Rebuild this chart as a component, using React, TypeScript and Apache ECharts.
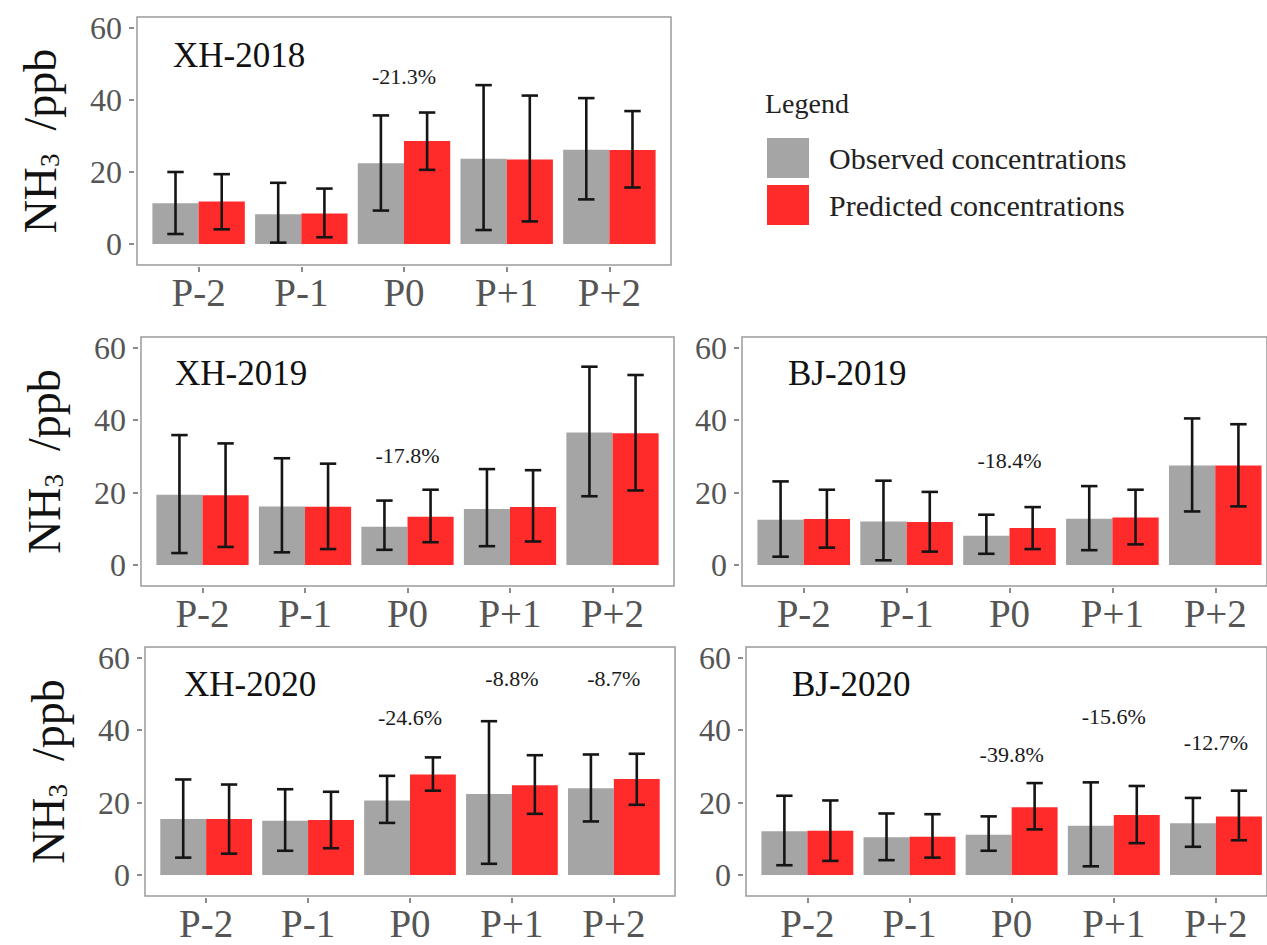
import React, { useEffect, useRef } from "react";
import * as echarts from "echarts";

const FONT = "Liberation Serif";

// ---------- data ----------
const categories = ["P-2", "P-1", "P0", "P+1", "P+2"];
const yMin = 0;
const yMax = 60;
const yStep = 20;

const xh2018ObsMean = [11.3, 8.3, 22.4, 23.7, 26.2];
const xh2018ObsLo = [2.8, 0.4, 9.3, 3.9, 12.4];
const xh2018ObsHi = [20.0, 17.0, 35.7, 44.1, 40.5];
const xh2018PredMean = [11.8, 8.5, 28.6, 23.5, 26.1];
const xh2018PredLo = [4.1, 1.9, 20.6, 6.3, 15.7];
const xh2018PredHi = [19.4, 15.4, 36.5, 41.2, 36.9];
const xh2018NoteCat = ["P0"];
const xh2018NoteY = [46.5];
const xh2018NoteText = ["-21.3%"];

const xh2019ObsMean = [19.4, 16.2, 10.6, 15.5, 36.6];
const xh2019ObsLo = [3.3, 3.5, 4.2, 5.2, 19.0];
const xh2019ObsHi = [35.9, 29.5, 17.8, 26.5, 54.8];
const xh2019PredMean = [19.3, 16.1, 13.3, 16.0, 36.4];
const xh2019PredLo = [5.0, 4.4, 6.3, 6.5, 20.6];
const xh2019PredHi = [33.6, 28.0, 20.8, 26.2, 52.5];
const xh2019NoteCat = ["P0"];
const xh2019NoteY = [30.3];
const xh2019NoteText = ["-17.8%"];

const bj2019ObsMean = [12.5, 12.0, 8.1, 12.8, 27.5];
const bj2019ObsLo = [2.3, 1.3, 3.1, 4.1, 14.8];
const bj2019ObsHi = [23.1, 23.3, 13.9, 21.8, 40.5];
const bj2019PredMean = [12.7, 11.9, 10.2, 13.1, 27.5];
const bj2019PredLo = [4.8, 3.7, 4.4, 5.7, 16.2];
const bj2019PredHi = [20.8, 20.2, 16.0, 20.8, 38.9];
const bj2019NoteCat = ["P0"];
const bj2019NoteY = [28.9];
const bj2019NoteText = ["-18.4%"];

const xh2020ObsMean = [15.5, 15.0, 20.6, 22.4, 24.0];
const xh2020ObsLo = [4.8, 6.7, 14.4, 3.1, 14.8];
const xh2020ObsHi = [26.4, 23.7, 27.4, 42.5, 33.3];
const xh2020PredMean = [15.5, 15.2, 27.8, 24.8, 26.5];
const xh2020PredLo = [5.9, 7.4, 23.3, 16.9, 19.4];
const xh2020PredHi = [25.0, 23.0, 32.5, 33.1, 33.5];
const xh2020NoteCat = ["P0", "P+1", "P+2"];
const xh2020NoteY = [43.5, 54.2, 54.2];
const xh2020NoteText = ["-24.6%", "-8.8%", "-8.7%"];

const bj2020ObsMean = [12.1, 10.4, 11.1, 13.6, 14.3];
const bj2020ObsLo = [2.7, 4.1, 6.7, 2.4, 7.8];
const bj2020ObsHi = [21.9, 17.0, 16.2, 25.6, 21.3];
const bj2020PredMean = [12.2, 10.6, 18.7, 16.6, 16.2];
const bj2020PredLo = [3.9, 4.8, 12.6, 8.8, 9.6];
const bj2020PredHi = [20.6, 16.8, 25.4, 24.6, 23.3];
const bj2020NoteCat = ["P0", "P+1", "P+2"];
const bj2020NoteY = [33.3, 43.9, 36.6];
const bj2020NoteText = ["-39.8%", "-15.6%", "-12.7%"];

const OBS_NAME = "Observed concentrations";
const PRED_NAME = "Predicted concentrations";
const GREY = "#a5a5a5";
const RED = "#ff2b2b";
const FRAME = "#9a9a9a";
const TICK = "#6e6e6e";

// frame spans beyond the 0..60 data range (ggplot-like expansion)
const EXP_BELOW = 5.8;
const EXP_ABOVE = 3;
const X_EXP = 0.6; // discrete axis expansion, in category units
const TICK_GAP = 3; // small gap between ticks and frame, as in the reference

// ---------- layout ----------
const panels = [
  { title: "XH-2018", box: { left: 137, top: 17, width: 534, height: 248 }, titlePos: [173, 55], yName: true,
    obs: [xh2018ObsMean, xh2018ObsLo, xh2018ObsHi], pred: [xh2018PredMean, xh2018PredLo, xh2018PredHi],
    notes: [xh2018NoteCat, xh2018NoteY, xh2018NoteText] },
  { title: "XH-2019", box: { left: 141, top: 337, width: 533, height: 249 }, titlePos: [175, 373], yName: true,
    obs: [xh2019ObsMean, xh2019ObsLo, xh2019ObsHi], pred: [xh2019PredMean, xh2019PredLo, xh2019PredHi],
    notes: [xh2019NoteCat, xh2019NoteY, xh2019NoteText] },
  { title: "BJ-2019", box: { left: 742, top: 337, width: 535, height: 249 }, titlePos: [788, 373], yName: false,
    obs: [bj2019ObsMean, bj2019ObsLo, bj2019ObsHi], pred: [bj2019PredMean, bj2019PredLo, bj2019PredHi],
    notes: [bj2019NoteCat, bj2019NoteY, bj2019NoteText] },
  { title: "XH-2020", box: { left: 145, top: 647, width: 530, height: 249 }, titlePos: [184, 684], yName: true,
    obs: [xh2020ObsMean, xh2020ObsLo, xh2020ObsHi], pred: [xh2020PredMean, xh2020PredLo, xh2020PredHi],
    notes: [xh2020NoteCat, xh2020NoteY, xh2020NoteText] },
  { title: "BJ-2020", box: { left: 746, top: 647, width: 535, height: 249 }, titlePos: [792, 684], yName: false,
    obs: [bj2020ObsMean, bj2020ObsLo, bj2020ObsHi], pred: [bj2020PredMean, bj2020PredLo, bj2020PredHi],
    notes: [bj2020NoteCat, bj2020NoteY, bj2020NoteText] },
];

function errorSeries(side: number, arr: number[][], idx: number) {
  const [, lo, hi] = arr;
  return {
    type: "custom",
    name: "err" + idx + "_" + side,
    xAxisIndex: idx,
    yAxisIndex: idx,
    silent: true,
    z: 5,
    encode: { x: 0, y: [1, 2] },
    data: lo.map((l, i) => [i, l, hi[i]]),
    renderItem: (_p: any, api: any) => {
      const i = api.value(0);
      const band = api.size([1, 0])[0];
      const pl = api.coord([i, api.value(1)]);
      const ph = api.coord([i, api.value(2)]);
      const x = pl[0] + side * 0.225 * band;
      const half = 0.08 * band;
      const ls = { stroke: "#151515", lineWidth: 2.6 };
      return {
        type: "group",
        children: [
          { type: "line", shape: { x1: x, y1: pl[1], x2: x, y2: ph[1] }, style: ls },
          { type: "line", shape: { x1: x - half, y1: pl[1], x2: x + half, y2: pl[1] }, style: ls },
          { type: "line", shape: { x1: x - half, y1: ph[1], x2: x + half, y2: ph[1] }, style: ls },
        ],
      };
    },
  };
}

function noteSeries(notes: any[], idx: number) {
  const [nc, ny, nt] = notes;
  return {
    type: "custom",
    name: "note" + idx,
    xAxisIndex: idx,
    yAxisIndex: idx,
    silent: true,
    z: 6,
    encode: { x: 0, y: 1 },
    data: (nc as string[]).map((c, k) => [categories.indexOf(c), ny[k]]),
    renderItem: (params: any, api: any) => {
      const pt = api.coord([api.value(0), api.value(1)]);
      return {
        type: "text",
        x: pt[0],
        y: pt[1],
        style: { text: nt[params.dataIndex], font: `22px "${FONT}"`, fill: "#1a1a1a", align: "center", verticalAlign: "middle" },
      };
    },
  };
}

function buildOption() {
  const grid: any[] = [];
  const xAxis: any[] = [];
  const yAxis: any[] = [];
  const series: any[] = [];
  const graphic: any[] = [];
  const n = panels.length;
  const span = yMax - yMin + EXP_BELOW + EXP_ABOVE;
  const totalX = categories.length - 1 + 2 * X_EXP; // 5.2 category units across the frame

  panels.forEach((p, idx) => {
    const b = p.box;
    const unit = b.width / totalX;
    const inLeft = b.left + (X_EXP - 0.5) * unit;
    const inWidth = categories.length * unit;
    const inTop = b.top + (EXP_ABOVE / span) * b.height;
    const inHeight = ((yMax - yMin) / span) * b.height;

    // 1) data grid: y from 0 to 60, categories centred like ggplot
    grid[idx] = { left: inLeft, top: inTop, width: inWidth, height: inHeight, show: false };
    xAxis[idx] = { type: "category", gridIndex: idx, data: categories, show: false };
    yAxis[idx] = {
      type: "value",
      gridIndex: idx,
      min: yMin,
      max: yMax,
      interval: yStep,
      position: "left",
      offset: (X_EXP - 0.5) * unit + TICK_GAP,
      axisLine: { show: false },
      axisTick: { show: true, length: 5, lineStyle: { color: TICK, width: 1.6 } },
      axisLabel: { fontFamily: FONT, fontSize: 32, color: "#555", margin: 12 },
      splitLine: { show: false },
    };

    // 2) frame grid: the panel border and the y title
    grid[n + idx] = { ...b, show: true, borderColor: FRAME, borderWidth: 1.5, backgroundColor: "transparent" };
    xAxis[n + idx] = { type: "value", gridIndex: n + idx, show: false, min: 0, max: 1 };
    yAxis[n + idx] = {
      type: "value",
      gridIndex: n + idx,
      min: 0,
      max: 1,
      position: "left",
      axisLine: { show: false },
      axisTick: { show: false },
      axisLabel: { show: false },
      splitLine: { show: false },
      name: p.yName ? "{n|NH}{s|3}{n|  /ppb}" : "",
      nameLocation: "middle",
      nameRotate: 90,
      nameGap: 74,
      nameTextStyle: {
        rich: {
          n: { fontFamily: FONT, fontSize: 46, color: "#111" },
          s: { fontFamily: FONT, fontSize: 27, color: "#111", verticalAlign: "bottom" },
        },
      },
    };

    // 3) category axis grid sitting just below the frame (ticks + labels)
    const xBottom = b.top + b.height + TICK_GAP - 1;
    grid[2 * n + idx] = { left: inLeft, top: xBottom - 10, width: inWidth, height: 10, show: false };
    xAxis[2 * n + idx] = {
      type: "category",
      gridIndex: 2 * n + idx,
      data: categories,
      position: "bottom",
      axisLine: { show: false },
      axisTick: { show: true, alignWithLabel: true, length: 5, lineStyle: { color: TICK, width: 1.6 } },
      axisLabel: { fontFamily: FONT, fontSize: 39, color: "#555", margin: 6 },
      splitLine: { show: false },
    };
    yAxis[2 * n + idx] = { type: "value", gridIndex: 2 * n + idx, show: false, min: 0, max: 1 };

    series.push({
      type: "bar",
      name: OBS_NAME,
      xAxisIndex: idx,
      yAxisIndex: idx,
      data: p.obs[0],
      barWidth: "45%",
      barGap: "0%",
      itemStyle: { color: GREY },
      silent: true,
    });
    series.push({
      type: "bar",
      name: PRED_NAME,
      xAxisIndex: idx,
      yAxisIndex: idx,
      data: p.pred[0],
      barWidth: "45%",
      barGap: "0%",
      itemStyle: { color: RED },
      silent: true,
    });
    series.push(errorSeries(-1, p.obs, idx));
    series.push(errorSeries(1, p.pred, idx));
    series.push(noteSeries(p.notes as any[], idx));
    graphic.push({
      type: "text",
      x: p.titlePos[0],
      y: p.titlePos[1],
      style: { text: p.title, font: `35px "${FONT}"`, fill: "#111", verticalAlign: "middle", align: "left" },
    });
  });

  graphic.push({
    type: "text",
    x: 765,
    y: 103,
    style: { text: "Legend", font: `28px "${FONT}"`, fill: "#222", verticalAlign: "middle", align: "left" },
  });

  return {
    animation: false,
    backgroundColor: "#fff",
    textStyle: { fontFamily: FONT },
    grid,
    xAxis,
    yAxis,
    series,
    graphic,
    legend: {
      data: [OBS_NAME, PRED_NAME],
      orient: "vertical",
      left: 767,
      top: 138,
      padding: 0,
      itemWidth: 42,
      itemHeight: 40,
      itemGap: 7,
      icon: "rect",
      selectedMode: false,
      textStyle: { fontFamily: FONT, fontSize: 30, color: "#222", padding: [0, 0, 0, 15] },
    },
  };
}

export default function App() {
  const ref = useRef<HTMLDivElement>(null);
  useEffect(() => {
    if (!ref.current) return;
    const chart = echarts.init(ref.current, undefined, { renderer: "svg" });
    chart.setOption(buildOption() as any);
    return () => chart.dispose();
  }, []);
  return (
    <div
      ref={ref}
      style={{ position: "absolute", left: 0, top: 0, width: 1267, height: 945, background: "#fff" }}
    />
  );
}
